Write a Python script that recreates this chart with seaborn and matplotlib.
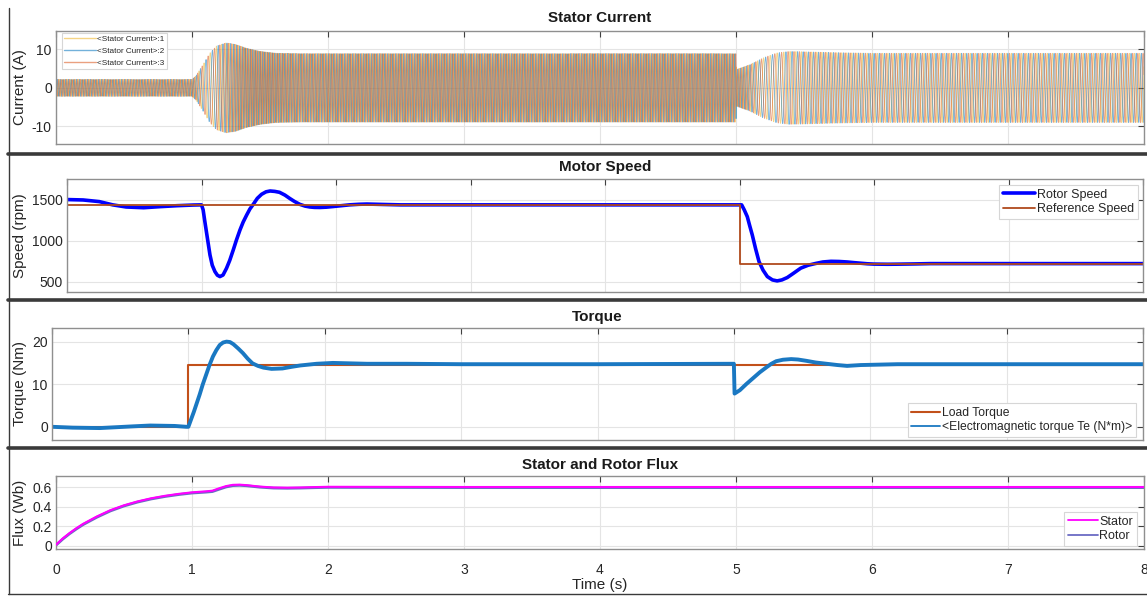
import numpy as np
import matplotlib
matplotlib.use("Agg")
import matplotlib.pyplot as plt
import matplotlib.ticker as mticker
import seaborn as sns
from matplotlib.lines import Line2D

# ---------------- data ----------------
# Rotor speed (rpm) at selected instants
speed_t = [0, 0.12, 0.24, 0.34, 0.44, 0.57, 0.69, 0.82, 0.94, 1.0, 1.012, 1.025, 1.044,
           1.063, 1.08, 1.1, 1.118, 1.137, 1.16, 1.186, 1.21, 1.236, 1.26, 1.286, 1.31,
           1.336, 1.36, 1.385, 1.415, 1.447, 1.48, 1.51, 1.545, 1.58, 1.62, 1.655, 1.69,
           1.73, 1.77, 1.806, 1.84, 1.88, 1.93, 1.98, 2.04, 2.1, 2.17, 2.23, 2.35, 2.48,
           3.0, 4.0, 5.0, 5.016, 5.035, 5.058, 5.075, 5.095, 5.12, 5.145, 5.175, 5.207,
           5.245, 5.28, 5.315, 5.355, 5.4, 5.455, 5.51, 5.567, 5.62, 5.68, 5.74, 5.80,
           5.85, 5.90, 5.95, 6.0, 6.1, 6.17, 6.3, 6.42, 7.0, 8.0]
speed_rpm = [1505, 1500, 1480, 1440, 1414, 1405, 1418, 1430, 1438, 1440, 1380, 1234, 1030,
             826, 700, 622, 578, 561, 580, 663, 760, 887, 1010, 1132, 1230,
             1316, 1390, 1447, 1520, 1570, 1600, 1610, 1605, 1594, 1560, 1520, 1483,
             1447, 1425, 1414, 1409, 1408, 1412, 1420, 1430, 1440, 1447, 1450, 1445, 1440,
             1440, 1440, 1440, 1440, 1380, 1295, 1190, 1071, 900, 745, 640, 561,
             520, 508, 520, 549, 600, 664, 700, 722, 740, 748, 746, 740,
             732, 725, 718, 714, 712, 713, 716, 720, 720, 720]

# Speed reference (rpm)
ref_t = [0, 5, 5, 8]
ref_rpm = [1440, 1440, 720, 720]

# Electromagnetic torque (N*m)
te_t = [0, 0.15, 0.35, 0.59, 0.72, 0.9, 0.985, 1.0, 1.04, 1.083, 1.105, 1.13, 1.155,
        1.18, 1.205, 1.23, 1.255, 1.28, 1.305, 1.33, 1.365, 1.40, 1.435, 1.47, 1.51,
        1.55, 1.61, 1.69, 1.76, 1.82, 1.94, 2.06, 2.31, 2.6, 3.0, 4.0, 4.99, 5.0, 5.005,
        5.044, 5.09, 5.14, 5.19, 5.24, 5.275, 5.31, 5.36, 5.42, 5.47, 5.53, 5.6, 5.68,
        5.76, 5.83, 5.93, 6.2, 7.0, 8.0]
te_nm = [0, -0.2, -0.3, 0.1, 0.3, 0.2, 0.0, 0.0, 3.5, 7.6, 9.9, 12.2, 14.5,
         16.5, 18.0, 19.2, 19.8, 20.0, 19.9, 19.4, 18.4, 17.3, 16.0, 14.9, 14.3,
         13.9, 13.6, 13.7, 14.1, 14.4, 14.8, 15.0, 14.8, 14.8, 14.7, 14.7, 14.8, 14.8, 7.8,
         8.6, 10.0, 11.4, 12.8, 14.0, 14.8, 15.4, 15.75, 15.9, 15.8, 15.5, 15.1, 14.8,
         14.5, 14.3, 14.5, 14.7, 14.7, 14.7]

# Load torque (N*m)
load_t = [0, 1, 1, 8]
load_nm = [0, 0, 14.6, 14.6]

# Stator / rotor flux magnitude (Wb)
flux_t = [0, 0.05, 0.1, 0.15, 0.2, 0.3, 0.4, 0.5, 0.6, 0.7, 0.8, 0.9, 1.0, 1.1, 1.15,
          1.2, 1.25, 1.3, 1.35, 1.4, 1.5, 1.6, 1.7, 1.8, 1.9, 2.0, 2.5, 3, 5, 5.3, 6, 8]
stator_flux = [0.01, 0.075, 0.13, 0.18, 0.225, 0.30, 0.365, 0.415, 0.455, 0.487, 0.512,
               0.532, 0.548, 0.558, 0.565, 0.59, 0.612, 0.625, 0.627, 0.622, 0.607, 0.598,
               0.596, 0.598, 0.602, 0.605, 0.604, 0.603, 0.603, 0.603, 0.603, 0.603]
rotor_flux = [0.005, 0.068, 0.123, 0.172, 0.217, 0.292, 0.357, 0.408, 0.448, 0.48, 0.505,
              0.525, 0.541, 0.55, 0.556, 0.58, 0.603, 0.617, 0.62, 0.616, 0.601, 0.592,
              0.59, 0.592, 0.596, 0.599, 0.598, 0.597, 0.597, 0.597, 0.597, 0.597]

# Stator current peak amplitude (A)
cur_t = [0, 1.0, 1.03, 1.08, 1.13, 1.18, 1.25, 1.32, 1.4, 1.5, 1.62, 1.8, 5.0, 5.005,
         5.1, 5.2, 5.3, 5.39, 5.5, 5.7, 6.0, 8.0]
cur_amp = [2.2, 2.2, 3.2, 6.0, 9.0, 10.9, 11.7, 11.3, 10.3, 9.5, 9.0, 8.9, 8.9, 4.8,
           6.0, 7.8, 9.1, 9.5, 9.4, 9.2, 9.0, 9.0]

pole_pairs = 2
slip_hz_per_nm = 0.17
fs = 5000  # samples per second of the current trace

phase_labels = ["<Stator Current>:1", "<Stator Current>:2", "<Stator Current>:3"]
phase_colors = ["#EDB120", "#0072BD", "#D95319"]

# three-phase currents: carrier frequency follows rotor speed plus slip
ts = np.arange(0, 8 + 1 / fs, 1 / fs)
f_el = pole_pairs * np.interp(ts, speed_t, speed_rpm) / 60 + slip_hz_per_nm * np.interp(ts, te_t, te_nm)
theta = 2 * np.pi * np.cumsum(f_el) / fs
amp = np.interp(ts, cur_t, cur_amp)
currents = [amp * np.sin(theta - k * 2 * np.pi / 3) for k in range(3)]

# ---------------- figure ----------------
sns.set_style("white")
plt.rcParams["font.family"] = ["Liberation Sans", "DejaVu Sans"]
plt.rcParams["axes.unicode_minus"] = False

W, H = 1147, 596
fig = plt.figure(figsize=(W / 100, H / 100), dpi=100)


def add_ax(l, t, r, b):
    return fig.add_axes([l / W, 1 - b / H, (r - l) / W, (b - t) / H])


def style(ax, yticks, ylim, xlabels=False):
    ax.set_xlim(0, 8)
    ax.set_ylim(*ylim)
    ax.set_xticks(range(9))
    ax.set_yticks(yticks)
    ax.yaxis.set_major_formatter(mticker.FormatStrFormatter("%g"))
    ax.grid(True, color="#e4e4e4", lw=0.8)
    ax.set_axisbelow(True)
    ax.tick_params(direction="in", length=4, width=0.8, top=True, right=True,
                   color="#404040", labelsize=10, labelcolor="#262626", pad=3)
    ax.tick_params(axis="x", pad=10)
    if not xlabels:
        ax.tick_params(labelbottom=False)
    for s in ax.spines.values():
        s.set_color("#8f8f8f")
        s.set_linewidth(1.0)
    ax.set_xlabel("")
    ax.set_ylabel("")


def legend(ax, loc, anchor, fs_, handles=None, labels=None, hl=2.4, ls=0.2):
    if handles is None:
        handles, labels = ax.get_legend_handles_labels()
    lg = ax.legend(handles, labels, loc=loc,
                   bbox_to_anchor=(anchor[0] / W, 1 - anchor[1] / H),
                   bbox_transform=fig.transFigure, fontsize=fs_, frameon=True,
                   fancybox=False, edgecolor="#d6d6d6", framealpha=1, borderpad=0.3,
                   handlelength=hl, handletextpad=0.15, labelspacing=ls, borderaxespad=0)
    lg.get_frame().set_linewidth(0.8)
    return lg


panels = [(56, 31, 1144, 144), (67, 179, 1143, 292), (52, 328, 1143, 440), (56, 476, 1144, 549)]
titles = ["Stator Current", "Motor Speed", "Torque", "Stator and Rotor Flux"]
title_y = [18, 167, 317, 465]
ylabels = ["Current (A)", "Speed (rpm)", "Torque (Nm)", "Flux (Wb)"]

axes = [add_ax(*p) for p in panels]

# Stator current
ax = axes[0]
for y, lab, col in zip(currents, phase_labels, phase_colors):
    sns.lineplot(x=ts, y=y, ax=ax, color=col, lw=0.6, alpha=0.55, label=lab,
                 estimator=None, sort=False)
style(ax, [-10, 0, 10], (-14.6, 14.8))
lg = legend(ax, "upper left", (62, 33), 5.9, hl=3.8, ls=0.5)
for h in lg.get_lines():
    h.set_linewidth(1.0)

# Motor speed
ax = axes[1]
sns.lineplot(x=speed_t, y=speed_rpm, ax=ax, color="#0000FF", lw=2.6, label="Rotor Speed",
             estimator=None, sort=False)
sns.lineplot(x=ref_t, y=ref_rpm, ax=ax, color="#B04A1C", lw=1.3, label="Reference Speed",
             estimator=None, sort=False)
style(ax, [500, 1000, 1500], (372, 1757))
legend(ax, "upper right", (1138, 185), 9, hl=2.6)

# Torque
ax = axes[2]
sns.lineplot(x=load_t, y=load_nm, ax=ax, color="#C2501A", lw=1.5, label="Load Torque",
             estimator=None, sort=False)
sns.lineplot(x=te_t, y=te_nm, ax=ax, color="#1A78C2", lw=2.8,
             label="<Electromagnetic torque Te (N*m)>", estimator=None, sort=False)
style(ax, [0, 10, 20], (-3.1, 23.2))
lg = legend(ax, "lower right", (1136, 437), 8.7)
lg.get_lines()[1].set_linewidth(1.3)

# Flux: rotor drawn beneath the stator trace
ax = axes[3]
sns.lineplot(x=flux_t, y=rotor_flux, ax=ax, color="#6B6BC4", lw=2.0, label="Rotor",
             estimator=None, sort=False, zorder=2)
sns.lineplot(x=flux_t, y=stator_flux, ax=ax, color="#FF00FF", lw=1.5, label="Stator",
             estimator=None, sort=False, zorder=3)
style(ax, [0, 0.2, 0.4, 0.6], (-0.034, 0.716), xlabels=True)
h, l = ax.get_legend_handles_labels()
lg = legend(ax, "lower right", (1137, 546), 9, handles=h[::-1], labels=l[::-1])
for ln in lg.get_lines():
    ln.set_linewidth(1.3)

for ax, (l, t, r, b), ttl, ty, yl in zip(axes, panels, titles, title_y, ylabels):
    fig.text((l + r) / 2 / W, 1 - ty / H, ttl, ha="center", va="center",
             fontsize=11, fontweight="bold", color="#1a1a1a")
    fig.text(20 / W, 1 - (t + b) / 2 / H, yl, ha="center", va="center",
             rotation=90, fontsize=11, color="#262626")

fig.text(600 / W, 1 - 585 / H, "Time (s)", ha="center", va="center", fontsize=11,
         color="#262626")

# panel frames
for y in [153.8, 299.8, 447.8]:
    fig.add_artist(Line2D([8 / W, 1], [1 - y / H, 1 - y / H], transform=fig.transFigure,
                          color="#3a3a3a", lw=2.6))
fig.add_artist(Line2D([8.5 / W, 8.5 / W], [1 - 8 / H, 1 - 594 / H], transform=fig.transFigure,
                      color="#3a3a3a", lw=1.0))
fig.add_artist(Line2D([8 / W, 1], [1 - 594 / H, 1 - 594 / H], transform=fig.transFigure,
                      color="#3a3a3a", lw=1.0))

fig.savefig("out.png", dpi=100)
